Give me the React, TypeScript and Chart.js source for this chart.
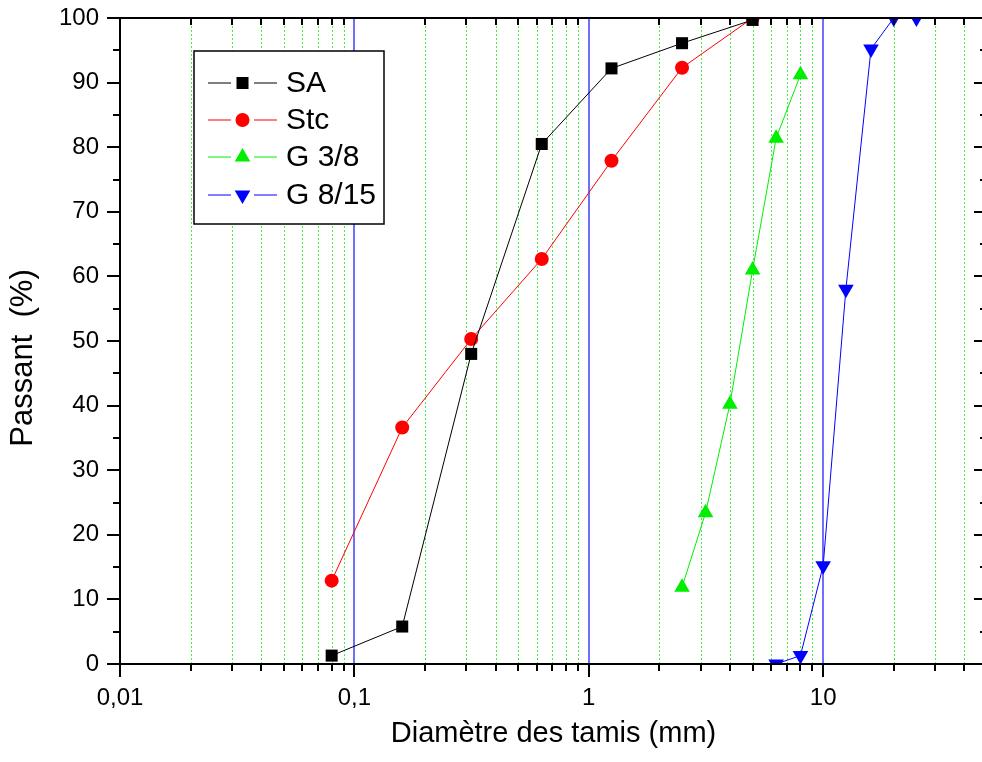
import { useEffect, useRef } from "react";
import { Chart, registerables } from "chart.js";

Chart.register(...registerables);

// ---- Data ----
const sieveSA = [0.08, 0.16, 0.315, 0.63, 1.25, 2.5, 5];
const passSA = [1.3, 5.8, 48.0, 80.5, 92.2, 96.1, 99.7];

const sieveStc = [0.08, 0.16, 0.315, 0.63, 1.25, 2.5, 5];
const passStc = [12.9, 36.6, 50.3, 62.7, 77.9, 92.3, 100];

const sieveG38 = [2.5, 3.15, 4, 5, 6.3, 8];
const passG38 = [11.9, 23.4, 40.2, 61.0, 81.4, 91.2];

const sieveG815 = [6.3, 8, 10, 12.5, 16, 20, 25];
const passG815 = [0, 1.3, 15.2, 58.0, 95.2, 100, 100];

const seriesLabels = ["SA", "Stc", "G 3/8", "G 8/15"];
const xMajorValues = [0.01, 0.1, 1, 10];
const xMajorLabels = ["0,01", "0,1", "1", "10"];
const yTickValues = [0, 10, 20, 30, 40, 50, 60, 70, 80, 90, 100];
const xAxisTitle = "Diamètre des tamis (mm)";
const yAxisTitle = "Passant  (%)";

const X_MIN = 0.01;
const X_MAX = 50;

function logTicks(): number[] {
  const out: number[] = [];
  for (let d = 0.01; d < X_MAX * 1.0001; d *= 10) {
    for (let m = 1; m <= 9; m++) {
      const v = Number((d * m).toPrecision(3));
      if (v >= X_MIN - 1e-9 && v <= X_MAX + 1e-9) out.push(v);
    }
  }
  return out;
}
const xTickValues = logTicks();

const FONT = "'Liberation Sans', Arial, Helvetica, sans-serif";

function isMajorX(v: number) {
  return xMajorValues.some((m) => Math.abs(m - v) / m < 1e-6);
}

function drawMarker(ctx: CanvasRenderingContext2D, style: string, rot: number, x: number, y: number, r: number, color: string) {
  ctx.save();
  ctx.fillStyle = color;
  ctx.beginPath();
  if (style === "rect") {
    const s = Math.SQRT1_2 * r;
    ctx.rect(x - s, y - s, 2 * s, 2 * s);
  } else if (style === "circle") {
    ctx.arc(x, y, r, 0, Math.PI * 2);
  } else {
    const rad0 = (rot * Math.PI) / 180;
    for (let k = 0; k < 3; k++) {
      const a = rad0 + (k * 2 * Math.PI) / 3;
      const px = x + Math.sin(a) * r;
      const py = y - Math.cos(a) * r;
      if (k === 0) ctx.moveTo(px, py);
      else ctx.lineTo(px, py);
    }
    ctx.closePath();
  }
  ctx.fill();
  ctx.restore();
}

const framePlugin = {
  id: "originFrame",
  beforeDatasetsDraw(chart: any) {
    const { ctx, chartArea } = chart;
    const { left, right, top, bottom } = chartArea;
    const x = chart.scales.x;
    ctx.save();
    ctx.beginPath();
    ctx.rect(left, top, right - left, bottom - top);
    ctx.clip();
    for (const v of xTickValues) {
      if (v === X_MIN || v === X_MAX) continue;
      const px = Math.round(x.getPixelForValue(v));
      ctx.beginPath();
      if (isMajorX(v)) {
        ctx.setLineDash([]);
        ctx.strokeStyle = "#7070ff";
        ctx.lineWidth = 2;
        ctx.moveTo(px, top);
        ctx.lineTo(px, bottom);
      } else {
        ctx.setLineDash([2, 2]);
        ctx.strokeStyle = "#44ee44";
        ctx.lineWidth = 1;
        ctx.moveTo(px + 0.5, top);
        ctx.lineTo(px + 0.5, bottom);
      }
      ctx.stroke();
    }
    ctx.restore();
  },
  afterDatasetsDraw(chart: any) {
    const { ctx, chartArea } = chart;
    const { left, right, top, bottom } = chartArea;
    const x = chart.scales.x;
    const y = chart.scales.y;
    ctx.save();
    ctx.strokeStyle = "#000";
    ctx.lineWidth = 2;
    ctx.setLineDash([]);
    ctx.beginPath();
    ctx.rect(left, top, right - left, bottom - top);
    ctx.stroke();
    const MAJ = 13;
    const MIN = 7;
    ctx.beginPath();
    for (const v of xTickValues) {
      const px = Math.round(x.getPixelForValue(v));
      const major = isMajorX(v);
      ctx.moveTo(px, bottom);
      ctx.lineTo(px, bottom + (major ? MAJ : MIN));
      if (!major) {
        ctx.moveTo(px, top);
        ctx.lineTo(px, top + MIN);
      }
    }
    for (let v = 0; v <= 100; v += 5) {
      const py = Math.round(y.getPixelForValue(v));
      const len = v % 10 === 0 ? MAJ : MIN;
      ctx.moveTo(left, py);
      ctx.lineTo(left - len, py);
      ctx.moveTo(right, py);
      ctx.lineTo(right - len, py);
    }
    ctx.stroke();
    ctx.restore();
  },
  afterDraw(chart: any) {
    const { ctx, chartArea } = chart;
    // y-axis title
    ctx.save();
    ctx.fillStyle = "#000";
    ctx.font = `31px ${FONT}`;
    ctx.textAlign = "center";
    ctx.textBaseline = "middle";
    ctx.translate(23, (chartArea.top + chartArea.bottom) / 2 + 17);
    ctx.rotate(-Math.PI / 2);
    ctx.fillText(yAxisTitle, 0, 0);
    ctx.restore();

    // legend
    const bx = 194, by = 51, bw = 190, bh = 173;
    ctx.save();
    ctx.fillStyle = "#fff";
    ctx.fillRect(bx, by, bw, bh);
    ctx.strokeStyle = "#000";
    ctx.lineWidth = 1.5;
    ctx.strokeRect(bx, by, bw, bh);
    const rows = [83, 120, 157, 195];
    chart.data.datasets.forEach((ds: any, i: number) => {
      const cy = rows[i];
      ctx.strokeStyle = ds.borderColor;
      ctx.lineWidth = 1;
      ctx.beginPath();
      ctx.moveTo(208, cy);
      ctx.lineTo(231, cy);
      ctx.moveTo(254, cy);
      ctx.lineTo(277, cy);
      ctx.stroke();
      drawMarker(ctx, ds.pointStyle, ds.pointRotation || 0, 242.5, cy, ds.pointRadius, ds.backgroundColor);
      ctx.fillStyle = "#000";
      ctx.font = `30px ${FONT}`;
      ctx.textAlign = "left";
      ctx.textBaseline = "middle";
      ctx.fillText(ds.label, 286, cy + 1);
    });
    ctx.restore();
  },
};

function toPoints(xs: number[], ys: number[]) {
  return xs.map((v, i) => ({ x: v, y: ys[i] }));
}

export default function App() {
  const ref = useRef<HTMLCanvasElement | null>(null);
  useEffect(() => {
    const canvas = ref.current!;
    const mk = (label: string, xs: number[], ys: number[], color: string, style: string, radius: number, rot = 0) => ({
      label,
      data: toPoints(xs, ys),
      borderColor: color,
      backgroundColor: color,
      borderWidth: 1,
      pointStyle: style,
      pointRadius: radius,
      pointHoverRadius: radius,
      pointRotation: rot,
      pointBorderWidth: 0,
      pointBackgroundColor: color,
      tension: 0,
      fill: false,
      clip: 0,
    });
    const chart = new Chart(canvas, {
      type: "line",
      data: {
        datasets: [
          mk(seriesLabels[0], sieveSA, passSA, "#000000", "rect", 8.5),
          mk(seriesLabels[1], sieveStc, passStc, "#ff0000", "circle", 7),
          mk(seriesLabels[2], sieveG38, passG38, "#00ee00", "triangle", 9),
          mk(seriesLabels[3], sieveG815, passG815, "#0000ff", "triangle", 9, 180),
        ] as any,
      },
      options: {
        animation: false,
        responsive: false,
        devicePixelRatio: 1,
        layout: { padding: { left: 0, right: 8, top: 18, bottom: 0 } },
        plugins: { legend: { display: false }, tooltip: { enabled: false } },
        events: [],
        scales: {
          x: {
            type: "logarithmic",
            min: X_MIN,
            max: X_MAX,
            grid: { display: false, drawTicks: false },
            border: { display: false },
            afterBuildTicks: (s: any) => {
              s.ticks = xTickValues.map((v) => ({ value: v, major: isMajorX(v) }));
            },
            afterFit: (s: any) => {
              s.height = 98;
              s.paddingLeft = 0;
              s.paddingRight = 0;
              s.paddingTop = 0;
              s.paddingBottom = 0;
            },
            ticks: {
              autoSkip: false,
              maxRotation: 0,
              padding: 20,
              color: "#000",
              font: { family: FONT, size: 24 },
              callback: (value: any) => {
                const idx = xMajorValues.findIndex((m) => Math.abs(m - value) / m < 1e-6);
                return idx >= 0 ? xMajorLabels[idx] : "";
              },
            },
            title: {
              display: true,
              text: xAxisTitle,
              color: "#000",
              font: { family: FONT, size: 29 },
              padding: { top: 0, bottom: 11 },
            },
          },
          y: {
            type: "linear",
            min: 0,
            max: 100,
            grid: { display: false, drawTicks: false },
            border: { display: false },
            afterBuildTicks: (s: any) => {
              s.ticks = yTickValues.map((v) => ({ value: v }));
            },
            afterFit: (s: any) => {
              s.width = 120;
              s.paddingLeft = 0;
              s.paddingRight = 0;
              s.paddingTop = 0;
              s.paddingBottom = 0;
            },
            ticks: {
              padding: 21,
              color: "#000",
              font: { family: FONT, size: 24 },
              callback: (value: any) => String(value),
            },
            title: { display: false },
          },
        },
      } as any,
      plugins: [framePlugin],
    });
    return () => chart.destroy();
  }, []);
  return (
    <div style={{ position: "fixed", left: 0, top: 0, width: 982, height: 762, overflow: "hidden", background: "#fff" }}>
      <canvas ref={ref} width={996} height={762} style={{ width: 996, height: 762, display: "block" }} />
    </div>
  );
}
